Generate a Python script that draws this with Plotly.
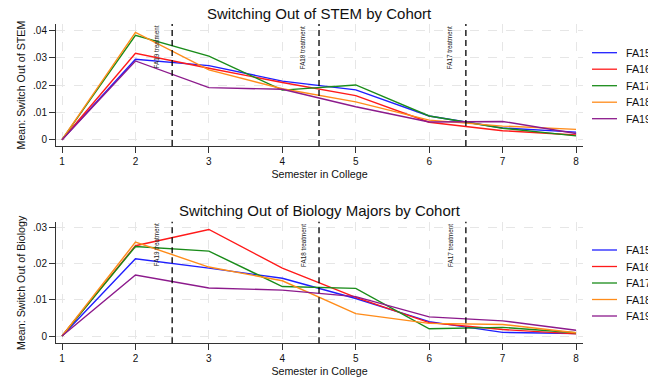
import plotly.graph_objects as go

# Semesters and cohort labels
semesters = [1, 2, 3, 4, 5, 6, 7, 8]
cohorts = ["FA15", "FA16", "FA17", "FA18", "FA19"]
cohort_colors = ["#1f1fff", "#ff1a1a", "#1a8c1a", "#ff8c1a", "#8c1a8c"]

# Mean share switching out of STEM, by cohort
stem_fa15 = [0, 0.0295, 0.0272, 0.0215, 0.0183, 0.0087, 0.0043, 0.0028]
stem_fa16 = [0, 0.0317, 0.0262, 0.0210, 0.0162, 0.0064, 0.0033, 0.0017]
stem_fa17 = [0, 0.0383, 0.0307, 0.0182, 0.0201, 0.0087, 0.0042, 0.0014]
stem_fa18 = [0, 0.0394, 0.0256, 0.0187, 0.0139, 0.0072, 0.0050, 0.0038]
stem_fa19 = [0, 0.0289, 0.0191, 0.0185, 0.0121, 0.0065, 0.0067, 0.0023]

# Mean share switching out of Biology majors, by cohort
bio_fa15 = [0, 0.0214, 0.0188, 0.0160, 0.0104, 0.0040, 0.0010, 0.0007]
bio_fa16 = [0, 0.0250, 0.0295, 0.0188, 0.0107, 0.0037, 0.0018, 0.0006]
bio_fa17 = [0, 0.0248, 0.0235, 0.0137, 0.0132, 0.0020, 0.0024, 0.0009]
bio_fa18 = [0, 0.0260, 0.0191, 0.0153, 0.0062, 0.0035, 0.0032, 0.0009]
bio_fa19 = [0, 0.0169, 0.0133, 0.0127, 0.0109, 0.0053, 0.0042, 0.0016]

stem_series = [stem_fa15, stem_fa16, stem_fa17, stem_fa18, stem_fa19]
bio_series = [bio_fa15, bio_fa16, bio_fa17, bio_fa18, bio_fa19]

# Treatment start markers
treat_x = [2.5, 4.5, 6.5]
treat_labels = ["FA19 treatment", "FA18 treatment", "FA17 treatment"]

stem_ticks = [0, 0.01, 0.02, 0.03, 0.04]
stem_ticktext = ["0", ".01", ".02", ".03", ".04"]
bio_ticks = [0, 0.01, 0.02, 0.03]
bio_ticktext = ["0", ".01", ".02", ".03"]

FONT = "Liberation Sans, Arial, sans-serif"
W, H = 648, 380

fig = go.Figure()

for name, color, ys in zip(cohorts, cohort_colors, stem_series):
    fig.add_trace(go.Scatter(x=semesters, y=ys, mode="lines", name=name,
                             line=dict(color=color, width=1.4),
                             xaxis="x", yaxis="y", showlegend=False))
for name, color, ys in zip(cohorts, cohort_colors, bio_series):
    fig.add_trace(go.Scatter(x=semesters, y=ys, mode="lines", name=name,
                             line=dict(color=color, width=1.4),
                             xaxis="x2", yaxis="y2", showlegend=False))

x_dom = [56 / W, 583 / W]
top_dom = [1 - 146 / H, 1 - 24 / H]
bot_dom = [1 - 343.3 / H, 1 - 221.7 / H]

axis_common = dict(
    showline=True, linecolor="#333333", linewidth=1,
    ticks="outside", ticklen=6, tickcolor="#333333", tickwidth=1,
    tickfont=dict(family=FONT, size=10, color="#111111"),
    showgrid=True, gridcolor="#e6e6e6", gridwidth=1, griddash="dash",
    zeroline=False,
)

fig.update_layout(
    width=W, height=H,
    margin=dict(l=0, r=0, t=0, b=0, autoexpand=False),
    paper_bgcolor="white", plot_bgcolor="white",
    font=dict(family=FONT, color="#111111"),
    showlegend=False,
    xaxis=dict(domain=x_dom, anchor="y", range=[0.918, 8.095],
               tickvals=semesters,
               title=dict(text="Semester in College", standoff=4,
                          font=dict(family=FONT, size=10.7)),
               **axis_common),
    yaxis=dict(domain=top_dom, anchor="x", range=[-0.00231, 0.04246],
               tickvals=stem_ticks, ticktext=stem_ticktext,
               **axis_common),
    xaxis2=dict(domain=x_dom, anchor="y2", range=[0.918, 8.095],
                tickvals=semesters,
                title=dict(text="Semester in College", standoff=4,
                           font=dict(family=FONT, size=10.7)),
                **axis_common),
    yaxis2=dict(domain=bot_dom, anchor="x2", range=[-0.00202, 0.03166],
                tickvals=bio_ticks, ticktext=bio_ticktext,
                **axis_common),
)

# Chart titles
fig.add_annotation(text="Switching Out of STEM by Cohort", xref="paper", yref="paper",
                   x=319.5 / W, y=1 - 13.5 / H, xanchor="center", yanchor="middle",
                   showarrow=False, font=dict(family=FONT, size=15, color="#111111"))
fig.add_annotation(text="Switching Out of Biology Majors by Cohort", xref="paper", yref="paper",
                   x=319.5 / W, y=1 - 210.5 / H, xanchor="center", yanchor="middle",
                   showarrow=False, font=dict(family=FONT, size=15, color="#111111"))

# Y-axis titles
for ya, label in (("y", "Mean: Switch Out of STEM"), ("y2", "Mean: Switch Out of Biology")):
    fig.add_annotation(text=label, xref="paper", yref=f"{ya} domain",
                       x=20.5 / W, y=0.5, xanchor="center", yanchor="middle",
                       textangle=-90, showarrow=False,
                       font=dict(family=FONT, size=10.7, color="#111111"))

# Treatment lines and labels on both panels
for xa, ya in (("x", "y"), ("x2", "y2")):
    for tx, tl in zip(treat_x, treat_labels):
        fig.add_shape(type="line", xref=xa, yref=f"{ya} domain",
                      x0=tx, x1=tx, y0=0, y1=1,
                      line=dict(color="black", width=1.3, dash="6px,4px"))
        fig.add_annotation(text=tl, xref=xa, yref=f"{ya} domain",
                           x=tx - 0.22, y=1.0, xanchor="center", yanchor="top",
                           textangle=-90, showarrow=False,
                           font=dict(family=FONT, size=6.3, color="#222222"))

# Cohort keys to the right of each panel
for first_row_y in (52.7, 250.0):
    for i, (name, color) in enumerate(zip(cohorts, cohort_colors)):
        yk = 1 - (first_row_y + i * 16.5) / H
        fig.add_shape(type="line", xref="paper", yref="paper",
                      x0=592 / W, x1=617 / W, y0=yk, y1=yk,
                      line=dict(color=color, width=1.3))
        fig.add_annotation(text=name, xref="paper", yref="paper",
                           x=625 / W, y=yk, xanchor="left", yanchor="middle",
                           showarrow=False, xshift=-1,
                           font=dict(family=FONT, size=10.7, color="#111111"))

fig.write_html("out.html")
